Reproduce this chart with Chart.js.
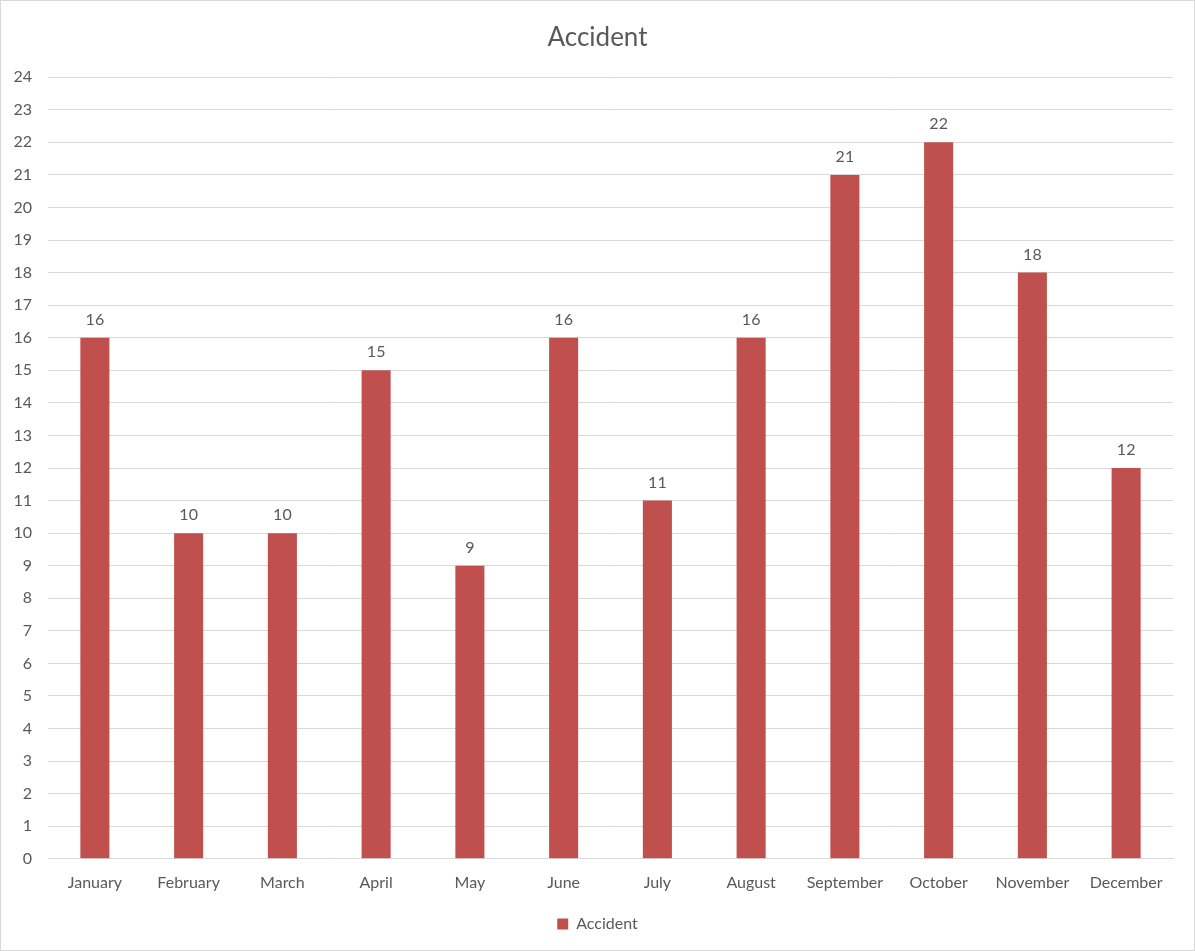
<!DOCTYPE html>
<html>
<head>
<meta charset="utf-8">
<script src="https://cdn.jsdelivr.net/npm/chart.js@4"></script>
<style>
  html, body { margin: 0; padding: 0; background: #fff; }
  .chart-box { position: relative; width: 1193px; height: 949px; border: 1px solid #d9d9d9; }
</style>
</head>
<body>
<div class="chart-box"><canvas id="accident-chart"></canvas></div>
<script>
// chart data
const months = ['January', 'February', 'March', 'April', 'May', 'June', 'July', 'August', 'September', 'October', 'November', 'December'];
const accidents = [16, 10, 10, 15, 9, 16, 11, 16, 21, 22, 18, 12];
const seriesName = 'Accident';

const barColor = '#C0504D';
const textColor = '#595959';
const gridColor = '#d9d9d9';

// draws the value above each bar
const barLabels = {
    id: 'barLabels',
    afterDatasetsDraw(chart) {
        const ctx = chart.ctx;
        ctx.save();
        ctx.font = '16px Lato';
        ctx.fillStyle = textColor;
        ctx.textAlign = 'center';
        ctx.textBaseline = 'bottom';
        chart.getDatasetMeta(0).data.forEach((bar, i) => {
            ctx.fillText(accidents[i], bar.x, bar.y - 10);
        });
        ctx.restore();
    }
};

const ctx = document.getElementById('accident-chart').getContext('2d');
new Chart(ctx, {
    type: 'bar',
    data: {
        labels: months,
        datasets: [{
            label: seriesName,
            data: accidents,
            backgroundColor: barColor,
            borderWidth: 0,
            categoryPercentage: 1,
            barPercentage: 0.31
        }]
    },
    options: {
        responsive: true,
        maintainAspectRatio: false,
        animation: false,
        layout: { padding: { left: 0, right: 0, top: 8, bottom: 8 } },
        scales: {
            y: {
                min: 0,
                max: 24,
                ticks: { stepSize: 1, color: textColor, font: { family: 'Lato', size: 16 }, padding: 16 },
                grid: { color: gridColor, drawTicks: false },
                border: { display: false },
                afterFit(scale) { scale.width = 47; }
            },
            // empty axis, only keeps a gap on the right so title/legend stay centred
            spacer: {
                position: 'right',
                display: true,
                ticks: { display: false },
                grid: { display: false, drawTicks: false },
                border: { display: false },
                afterFit(scale) { scale.width = 21; }
            },
            x: {
                ticks: { color: textColor, font: { family: 'Lato', size: 16 }, padding: 14, maxRotation: 0 },
                grid: { display: false, drawTicks: false },
                border: { color: gridColor }
            }
        },
        plugins: {
            title: {
                display: true,
                text: seriesName,
                color: textColor,
                font: { family: 'Lato', size: 26, weight: 'normal' },
                padding: { top: 13, bottom: 24 }
            },
            legend: {
                position: 'bottom',
                labels: { color: textColor, font: { family: 'Lato', size: 16 }, boxWidth: 11, boxHeight: 11, padding: 10 }
            },
            tooltip: { enabled: false }
        }
    },
    plugins: [barLabels]
});
</script>
</body>
</html>
